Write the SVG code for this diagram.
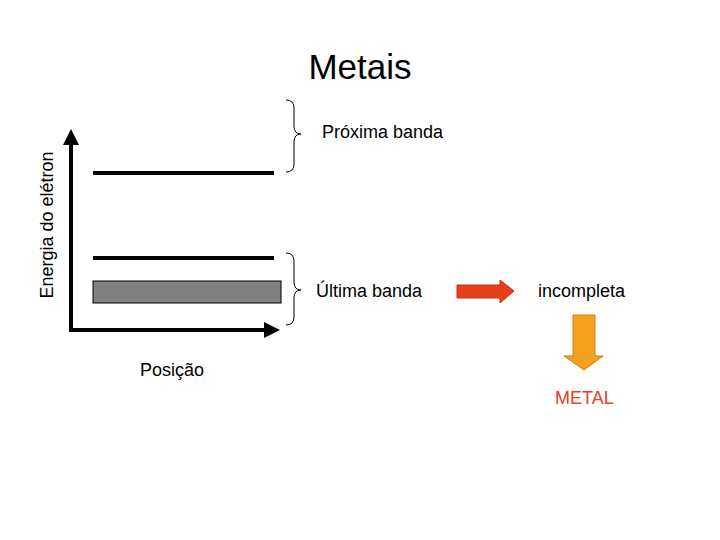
<svg xmlns="http://www.w3.org/2000/svg" width="720" height="540" viewBox="0 0 720 540">
<style>
text{font-family:"Liberation Sans",Arial,sans-serif;fill:#000}
.lbl{font-size:18px}
.lvl{stroke:#000;stroke-width:4}
.brace{fill:none;stroke:#000;stroke-width:1}
</style>
<defs>
<marker id="ah" markerWidth="4" markerHeight="4" refX="3" refY="2" orient="auto" markerUnits="strokeWidth">
<path d="M0,0 L4,2 L0,4 z" fill="#000"/>
</marker>
</defs>
<rect width="720" height="540" fill="#fff"/>
<text x="360" y="79" font-size="35" text-anchor="middle">Metais</text>
<g id="connectors">
<line x1="71" y1="330" x2="71" y2="133" stroke="#000" stroke-width="4" marker-end="url(#ah)"/>
<line x1="69" y1="330" x2="276" y2="330" stroke="#000" stroke-width="4" marker-end="url(#ah)"/>
</g>
<g id="axis-labels">
<text class="lbl" transform="translate(53,225) rotate(-90)" text-anchor="middle">Energia do elétron</text>
<text class="lbl" x="140" y="376">Posição</text>
</g>
<g id="levels">
<line class="lvl" x1="93" y1="173" x2="274" y2="173"/>
<line class="lvl" x1="93" y1="258" x2="274" y2="258"/>
<rect x="93" y="281" width="188" height="22" fill="#808080" stroke="#000" stroke-width="1"/>
</g>
<g id="brace-top">
<path class="brace" d="M286,100 Q294,100 294,108 L294,126 Q294,134 301,134 Q294,134 294,142 L294,164 Q294,172 286,172"/>
<text class="lbl" x="322" y="138">Próxima banda</text>
</g>
<g id="brace-bottom">
<path class="brace" d="M286,253 Q294,253 294,261 L294,282 Q294,290 301,290 Q294,290 294,298 L294,317 Q294,325 286,325"/>
<text class="lbl" x="316" y="297">Última banda</text>
</g>
<g id="red-arrow">
<polygon points="457,285 500,285 500,280 514,291 500,303 500,298 457,298" fill="#E8401C" stroke="#C03010" stroke-width="1"/>
</g>
<g id="incompleta">
<text class="lbl" x="538" y="297">incompleta</text>
</g>
<g id="orange-arrow">
<polygon points="573,315 595,315 595,356 603,356 584,370 564,356 573,356" fill="#F7A01E" stroke="#C88010" stroke-width="1"/>
</g>
<g id="metal">
<text class="lbl" x="555" y="404" style="fill:#E8401C">METAL</text>
</g>
</svg>
